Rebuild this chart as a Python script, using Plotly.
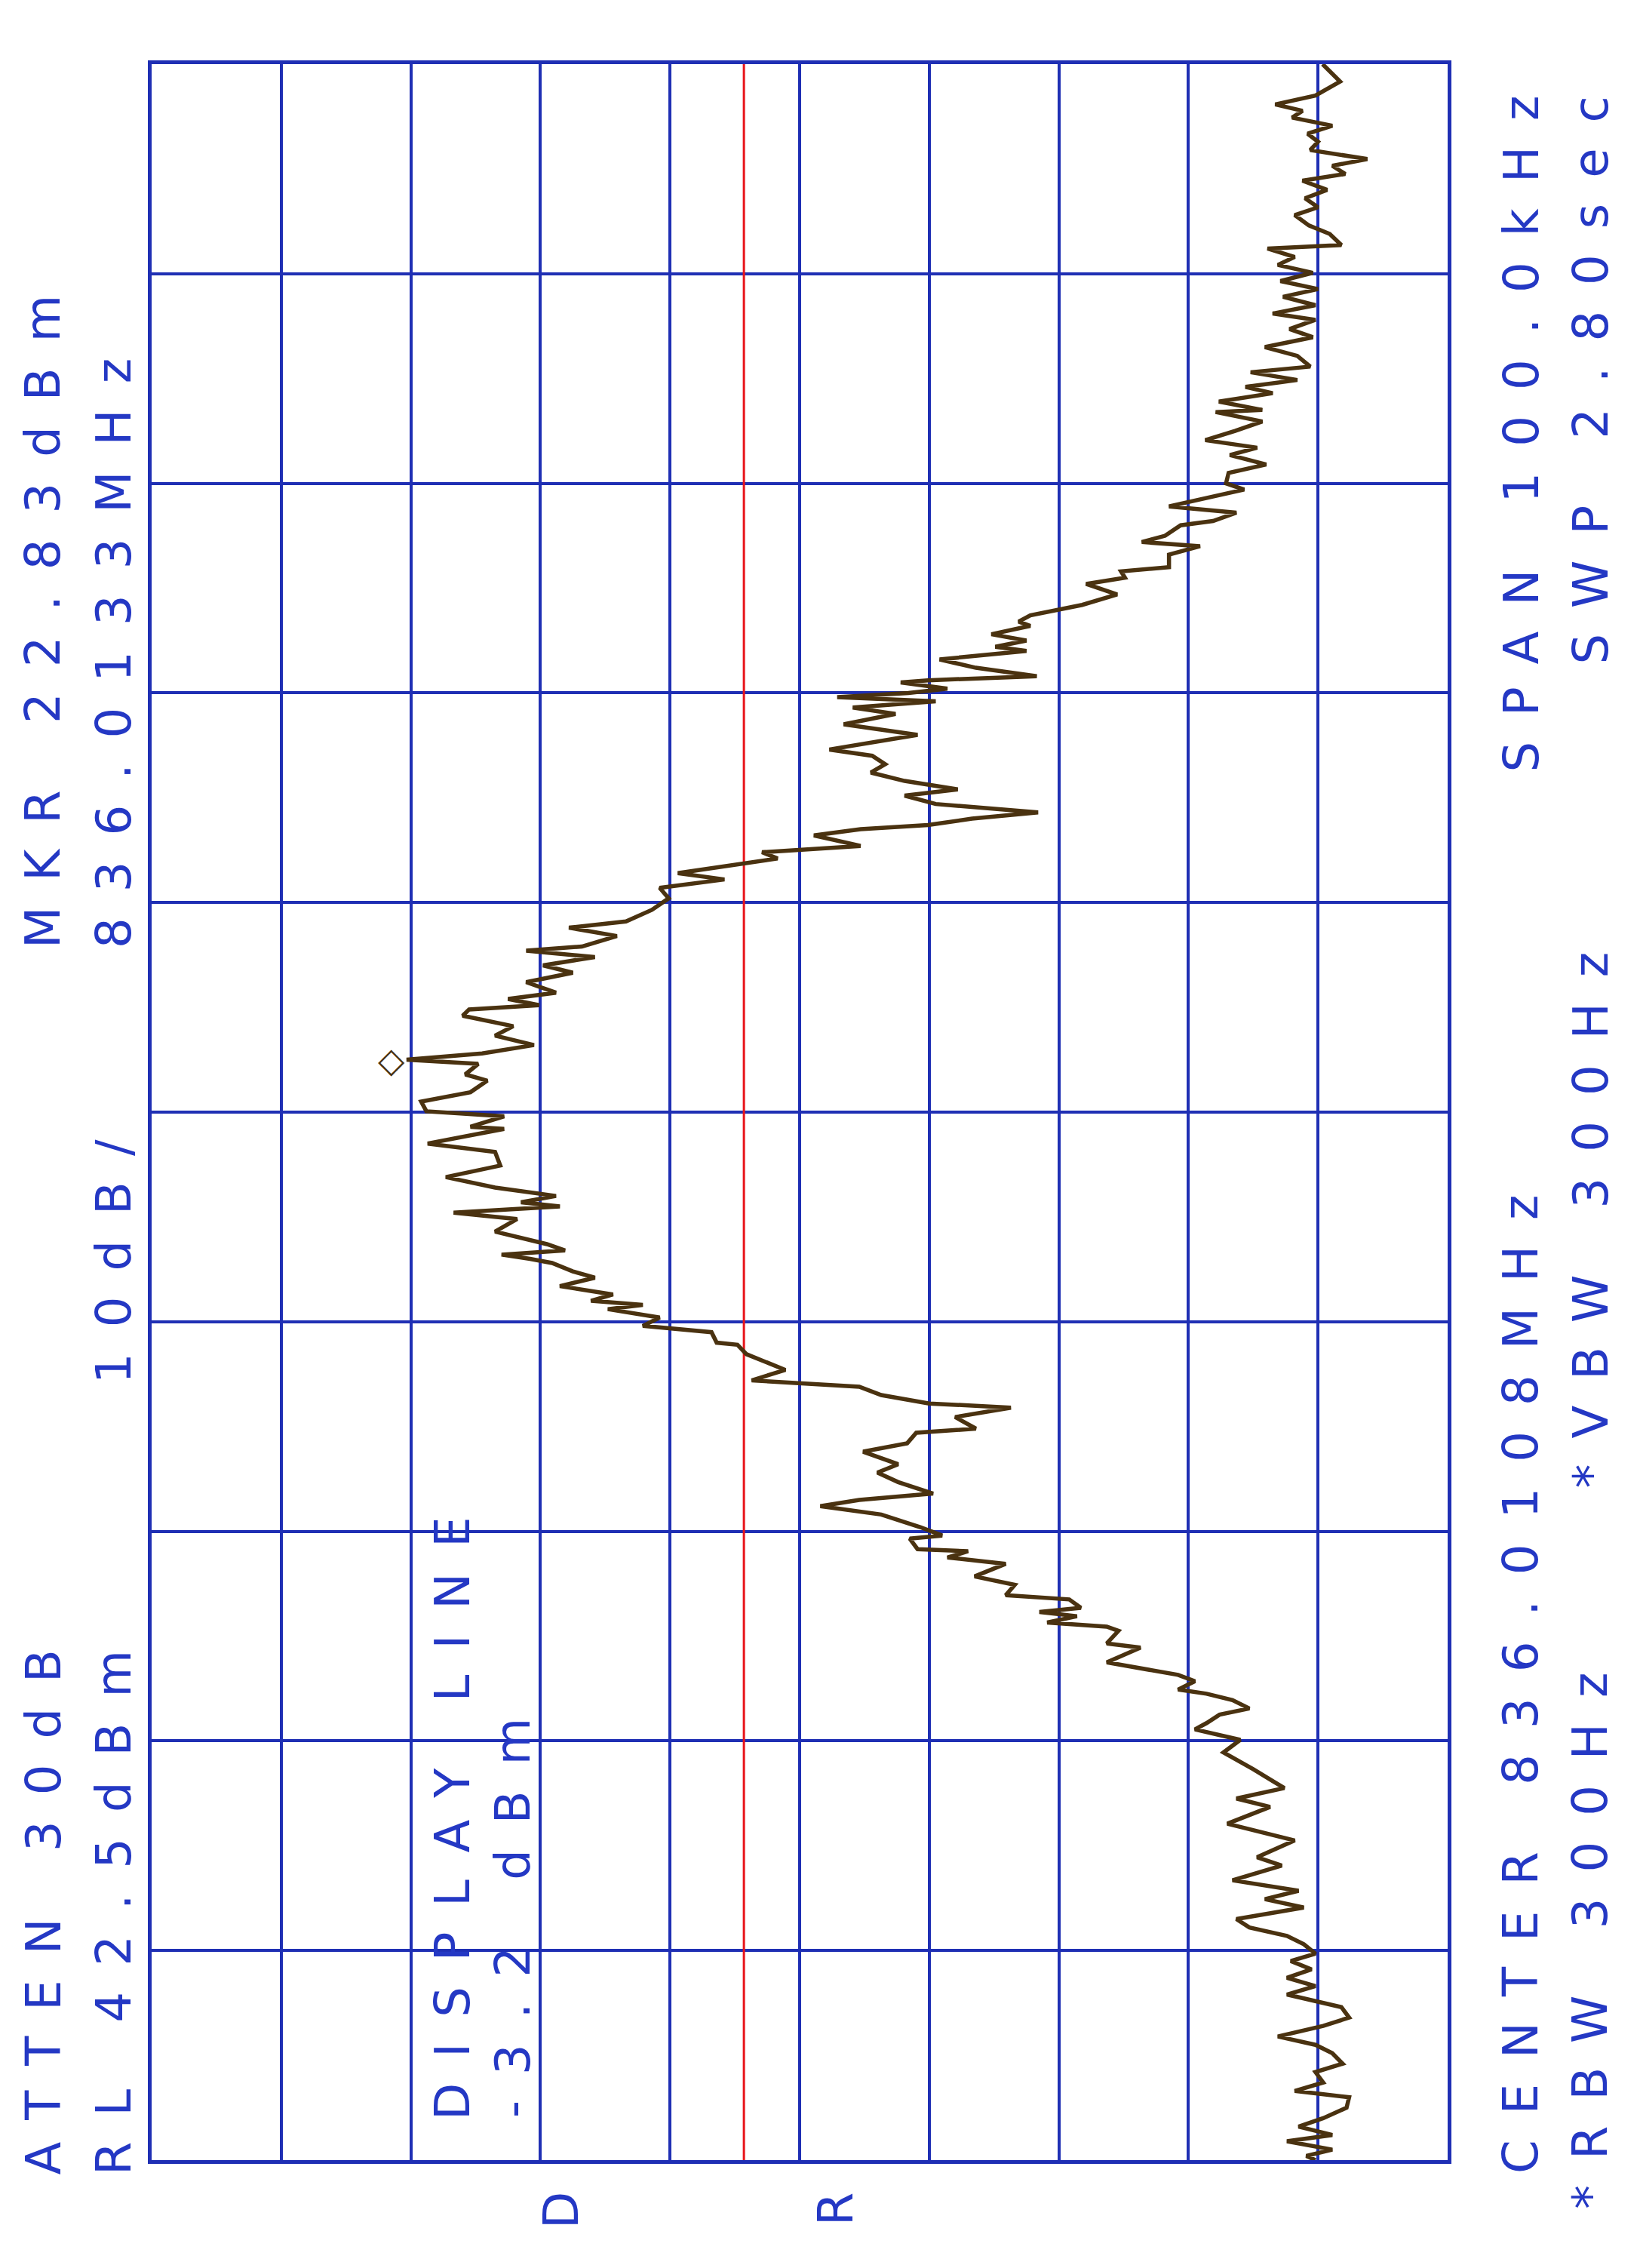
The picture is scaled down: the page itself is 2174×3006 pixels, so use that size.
import plotly.graph_objects as go

# spectrum analyser plot (HP style), drawn rotated: level runs left->right, frequency bottom->top
CENTER_MHZ = 836.0108
SPAN_KHZ = 100.0
REF_LEVEL = 42.5
DB_PER_DIV = 10
DISPLAY_LINE = -3.2
MARKER_MHZ = 836.0133
MARKER_DBM = 22.83

# trace: offset from center (kHz) and level (dBm)
offset_khz = [
    -50.0, -49.8, -49.5, -49.1, -48.8, -48.4, -48.0, -47.5, -47.0, -46.7,
    -46.3, -45.8, -45.4, -44.9, -44.5, -44.1, -43.6, -43.2, -42.7, -42.1,
    -41.7, -41.3, -40.9, -40.5, -40.15, -39.7, -39.3, -38.9, -38.5, -37.95,
    -37.55, -37.15, -36.65, -35.95, -35.55, -34.75, -33.95, -33.15, -32.75, -32.25,
    -31.95, -31.35, -30.55, -29.95, -29.45, -29.15, -28.75, -28.45, -28.05, -27.75,
    -27.55, -27.15, -26.85, -26.45, -26.25, -25.55, -25.35, -24.75, -24.55, -24.35,
    -24.05, -23.85, -23.65, -23.25, -23.05, -22.55, -22.15, -21.55, -21.25, -20.95,
    -20.85, -20.35, -20.2, -19.8, -19.2, -18.8, -18.5, -18.2, -17.65, -17.2,
    -16.8, -16.2, -15.8, -15.3, -15.1, -14.55, -14.1, -13.9, -13.5, -13.1,
    -12.9, -12.8, -12.3, -11.9, -11.55, -11.1, -11.0, -10.5, -10.2, -9.8,
    -9.4, -9.2, -9.0, -8.7, -8.3, -7.9, -7.6, -7.2, -7.0, -6.8,
    -6.6, -6.3, -6.0, -5.7, -5.1, -4.8, -4.5, -4.3, -4.0, -3.6,
    -3.1, -2.75, -2.55, -1.9, -1.5, -0.8, -0.7, -0.2, 0.04, 0.5,
    0.95, 1.5, 1.8, 2.3, 2.5, 2.8, 3.2, 3.65, 4.1, 4.6,
    4.9, 5.1, 5.4, 5.7, 6.2, 6.65, 7.0, 7.4, 7.7, 7.9,
    8.4, 8.8, 9.1, 9.65, 10.2, 10.7, 11.1, 11.4, 12.1, 12.4,
    12.7, 13.2, 13.5, 13.7, 14.0, 14.3, 14.7, 15.1, 15.4, 15.8,
    16.2, 16.6, 17.0, 17.3, 18.0, 18.5, 19.0, 19.3, 19.6, 19.8,
    20.0, 20.2, 20.5, 20.6, 20.8, 21.2, 21.6, 22.0, 22.2, 22.5,
    22.8, 23.2, 23.4, 23.7, 24.0, 24.2, 24.7, 25.2, 25.5, 25.8,
    26.0, 26.6, 27.0, 27.2, 27.5, 28.0, 28.2, 28.6, 28.9, 29.7,
    30.0, 30.5, 30.9, 31.35, 31.7, 32.06, 32.5, 32.95, 33.4, 33.5,
    33.9, 34.3, 34.6, 34.93, 35.3, 35.57, 36.08, 36.5, 36.97, 37.36,
    37.8, 38.1, 38.5, 38.9, 39.27, 39.65, 40.04, 40.42, 40.8, 41.2,
    41.37, 41.9, 42.3, 42.8, 43.17, 43.6, 44.0, 44.44, 44.76, 45.15,
    45.47, 45.9, 46.3, 46.68, 47.06, 47.45, 47.77, 48.08, 48.5, 49.17,
    50.0,
]
level_dbm = [
    -47.3, -46.6, -48.6, -45.1, -48.6, -46.0, -47.9, -49.7, -49.9, -45.7,
    -47.9, -47.3, -49.4, -48.6, -47.3, -44.4, -47.9, -49.9, -49.3, -45.1,
    -47.3, -45.1, -47.0, -45.4, -47.3, -46.4, -45.1, -42.2, -41.2, -46.4,
    -43.4, -46.0, -40.9, -44.7, -42.8, -45.7, -40.5, -43.8, -41.2, -44.9,
    -44.1, -42.5, -40.2, -41.5, -38.0, -38.9, -39.9, -42.2, -40.9, -38.9,
    -36.7, -38.0, -36.7, -33.1, -31.2, -33.8, -31.2, -32.1, -31.2, -26.6,
    -28.9, -26.0, -29.2, -28.3, -23.4, -24.1, -21.0, -23.4, -18.9, -20.5,
    -16.6, -16.0, -18.5, -16.8, -13.8, -9.1, -12.1, -17.8, -15.1, -13.5,
    -15.1, -12.4, -15.8, -16.5, -21.1, -19.5, -23.8, -17.5, -13.8, -12.1,
    -7.1, -3.8, -6.4, -4.8, -3.4, -2.7, -1.1, -0.7, 4.6, 3.3,
    7.3, 4.6, 8.6, 6.9, 11.0, 8.3, 10.0, 11.6, 13.3, 15.5,
    10.6, 12.0, 14.0, 16.0, 14.3, 19.2, 11.0, 14.0, 11.3, 16.0,
    19.8, 17.3, 15.6, 16.0, 21.2, 15.3, 17.9, 15.3, 21.3, 21.7,
    17.9, 16.6, 18.3, 17.3, 22.83, 17.0, 13.0, 16.0, 14.6, 18.5,
    18.0, 12.6, 15.0, 11.3, 13.6, 10.0, 12.3, 8.3, 13.6, 9.3,
    6.6, 10.3, 5.9, 3.9, 2.6, 3.3, -1.7, 1.9, -5.8, -4.6,
    -12.2, -8.6, -12.2, -17.4, -20.8, -25.9, -18.0, -15.6, -19.7, -15.6,
    -13.0, -14.1, -13.1, -9.8, -16.6, -10.9, -14.9, -11.6, -18.0, -10.4,
    -15.9, -18.9, -15.3, -17.4, -25.8, -21.1, -18.3, -25.0, -22.6, -25.0,
    -22.3, -25.3, -24.4, -25.3, -27.5, -29.3, -32.0, -29.6, -32.6, -32.3,
    -36.0, -36.0, -38.4, -33.9, -35.7, -36.9, -39.4, -41.2, -36.0, -41.8,
    -40.4, -40.6, -43.5, -40.7, -42.8, -38.8, -41.1, -43.2, -39.6, -43.2,
    -39.85, -44.0, -41.9, -45.9, -42.3, -46.9, -45.9, -43.4, -47.1, -45.3,
    -47.3, -44.0, -47.3, -44.8, -47.5, -44.6, -47.1, -44.4, -45.7, -43.6,
    -49.3, -48.4, -46.8, -45.7, -47.5, -46.5, -48.2, -46.3, -49.6, -48.6,
    -51.3, -46.9, -47.5, -46.7, -48.6, -45.5, -46.3, -44.2, -47.3, -49.2,
    -47.85,
]

# screen annotations (text reads bottom to top)
label_texts = [
    "ATTEN 30dB", "MKR 22.83dBm",
    "RL 42.5dBm", "10dB/", "836.0133MHz",
    "DISPLAY LINE", "-3.2 dBm",
    "CENTER 836.0108MHz", "SPAN 100.0kHz",
    "*RBW 300Hz", "*VBW 300Hz", "SWP 2.80sec",
]
# (column centre px, text start px) in page pixels
label_pos = [
    (57, 2885), (57, 1259),
    (151, 2885), (151, 1836), (151, 1259),
    (600, 2812), (680, 2809),
    (2016, 2883), (2016, 1026),
    (2108, 2930), (2108, 1975), (2108, 883),
]
side_letters = ["D", "R"]
side_pos = [(744, 2930), (1108, 2928)]

BLUE = "#1f2fb4"
TEXT_BLUE = "#2438c4"
BROWN = "#4a3210"
RED = "#e8151b"

W, H = 2158, 2990
ML, MR, MT, MB = 193, 247, 77, 135
PW, PH = W - ML - MR, H - MT - MB


def px_x(px):
    return (px - 8 - ML) / PW


def px_y(py):
    return 1 - (py - 8 - MT) / PH


f_start = CENTER_MHZ - SPAN_KHZ / 2000
f_stop = CENTER_MHZ + SPAN_KHZ / 2000
freq_mhz = [CENTER_MHZ + o / 1000 for o in offset_khz]

fig = go.Figure()

fig.add_trace(go.Scatter(
    x=[DISPLAY_LINE, DISPLAY_LINE], y=[f_start, f_stop], mode="lines",
    line=dict(color=RED, width=3), hoverinfo="skip", showlegend=False,
))
fig.add_trace(go.Scatter(
    x=level_dbm, y=freq_mhz, mode="lines",
    line=dict(color=BROWN, width=5.5), showlegend=False,
))

annotations = []
for t, (cx, sy) in zip(label_texts, label_pos):
    annotations.append(dict(
        text=f'<span style="letter-spacing:34px">{t}</span>',
        xref="paper", yref="paper", x=px_x(cx), y=px_y(sy),
        xanchor="center", yanchor="bottom", textangle=-90, showarrow=False,
        font=dict(family="DejaVu Sans", size=64, color=TEXT_BLUE),
    ))
for t, (cx, cy) in zip(side_letters, side_pos):
    annotations.append(dict(
        text=t, xref="paper", yref="paper", x=px_x(cx), y=px_y(cy),
        xanchor="center", yanchor="middle", textangle=-90, showarrow=False,
        font=dict(family="DejaVu Sans", size=64, color=TEXT_BLUE),
    ))
# marker diamond sits just left of the marked point
annotations.append(dict(
    text="\u25c7", x=MARKER_DBM, y=MARKER_MHZ, xref="x", yref="y",
    xanchor="right", yanchor="middle", showarrow=False,
    font=dict(family="DejaVu Sans", size=46, color=BROWN),
))

fig.update_layout(
    width=W, height=H,
    margin=dict(l=ML, r=MR, t=MT, b=MB),
    paper_bgcolor="white", plot_bgcolor="white",
    annotations=annotations,
    showlegend=False,
)
fig.update_xaxes(
    range=[REF_LEVEL, REF_LEVEL - 10 * DB_PER_DIV], tick0=REF_LEVEL, dtick=DB_PER_DIV,
    showgrid=True, gridcolor=BLUE, gridwidth=3.5, zeroline=False,
    showline=True, linecolor=BLUE, linewidth=5, mirror=True,
    showticklabels=False, ticks="",
)
fig.update_yaxes(
    range=[f_start, f_stop], tick0=f_start, dtick=SPAN_KHZ / 10000,
    showgrid=True, gridcolor=BLUE, gridwidth=3.5, zeroline=False,
    showline=True, linecolor=BLUE, linewidth=5, mirror=True,
    showticklabels=False, ticks="",
)

fig.write_html("out.html")
